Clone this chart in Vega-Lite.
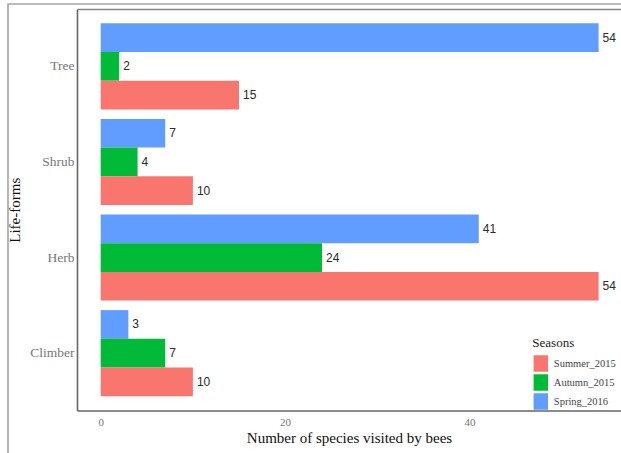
{
  "$schema": "https://vega.github.io/schema/vega-lite/v6.json",
  "autosize": {"type": "none"},
  "padding": {"left": 8, "top": 4, "right": 0, "bottom": 0},
  "width": 613,
  "height": 449,
  "background": "white",
  "data": {
    "values": [
      {"lifeform": "Tree", "season": "Spring_2016", "species": 54},
      {"lifeform": "Tree", "season": "Autumn_2015", "species": 2},
      {"lifeform": "Tree", "season": "Summer_2015", "species": 15},
      {"lifeform": "Shrub", "season": "Spring_2016", "species": 7},
      {"lifeform": "Shrub", "season": "Autumn_2015", "species": 4},
      {"lifeform": "Shrub", "season": "Summer_2015", "species": 10},
      {"lifeform": "Herb", "season": "Spring_2016", "species": 41},
      {"lifeform": "Herb", "season": "Autumn_2015", "species": 24},
      {"lifeform": "Herb", "season": "Summer_2015", "species": 54},
      {"lifeform": "Climber", "season": "Spring_2016", "species": 3},
      {"lifeform": "Climber", "season": "Autumn_2015", "species": 7},
      {"lifeform": "Climber", "season": "Summer_2015", "species": 10}
    ]
  },
  "encoding": {
    "y": {
      "field": "lifeform",
      "type": "nominal",
      "sort": ["Tree", "Shrub", "Herb", "Climber"],
      "scale": {"range": [5, 406.5], "paddingInner": 0.1, "paddingOuter": 0.15},
      "axis": {
        "title": "Life-forms",
        "orient": "left",
        "offset": -69,
        "domain": true,
        "domainColor": "#666666",
        "domainWidth": 1.6,
        "ticks": false,
        "labelPadding": 3,
        "labelFont": "Liberation Serif",
        "labelFontSize": 13.5,
        "labelColor": "#777777",
        "titleFont": "Liberation Serif",
        "titleFontSize": 15,
        "titleFontWeight": "normal",
        "titleColor": "#111111",
        "titlePadding": 7
      }
    },
    "yOffset": {
      "field": "season",
      "type": "nominal",
      "scale": {"domain": ["Spring_2016", "Autumn_2015", "Summer_2015"], "paddingInner": 0, "paddingOuter": 0}
    },
    "x": {
      "field": "species",
      "type": "quantitative",
      "scale": {"domain": [-2.57, 56.43], "range": [69, 613], "nice": false, "zero": false}
    }
  },
  "layer": [
    {
      "mark": {"type": "bar"},
      "encoding": {
        "x": {
          "field": "species",
          "type": "quantitative",
          "axis": {
            "orient": "bottom",
            "offset": -42.5,
            "values": [0, 20, 40],
            "grid": false,
            "ticks": false,
            "domainColor": "#666666",
            "domainWidth": 1.6,
            "labelPadding": 6,
            "labelFont": "Liberation Serif",
            "labelFontSize": 11,
            "labelColor": "#777777",
            "title": "Number of species visited by bees",
            "titleFont": "Liberation Serif",
            "titleFontSize": 15,
            "titleFontWeight": "normal",
            "titleColor": "#111111",
            "titlePadding": 3
          }
        },
        "color": {
          "field": "season",
          "type": "nominal",
          "title": "Seasons",
          "scale": {
            "domain": ["Summer_2015", "Autumn_2015", "Spring_2016"],
            "range": ["#F8766D", "#00BA38", "#619CFF"]
          }
        }
      }
    },
    {
      "mark": {"type": "text", "align": "left", "baseline": "middle", "dx": 4, "font": "Liberation Sans", "fontSize": 12, "color": "#2a2a2a"},
      "encoding": {
        "x": {
          "field": "species",
          "type": "quantitative",
          "axis": {
            "orient": "top",
            "offset": -5,
            "labels": false,
            "ticks": false,
            "grid": false,
            "title": null,
            "domainColor": "#888888",
            "domainWidth": 1.5
          }
        },
        "text": {"field": "species", "type": "quantitative"}
      }
    }
  ],
  "resolve": {"axis": {"x": "independent"}},
  "config": {
    "view": {"stroke": "#a6a6a6", "strokeWidth": 1.6, "strokeDash": [613, 1062, 449]},
    "legend": {
      "orient": "none",
      "legendX": 524.3,
      "legendY": 333,
      "padding": 0,
      "symbolType": "M-0.875,-1L0.875,-1L0.875,1L-0.875,1Z",
      "symbolSize": 272,
      "symbolStrokeWidth": 0,
      "titleFont": "Liberation Serif",
      "titleFontSize": 13,
      "titleFontWeight": "normal",
      "titleColor": "#222222",
      "titlePadding": 5,
      "labelFont": "Liberation Serif",
      "labelFontSize": 10.5,
      "labelColor": "#444444",
      "labelOffset": 4.5,
      "rowPadding": 2
    }
  }
}
